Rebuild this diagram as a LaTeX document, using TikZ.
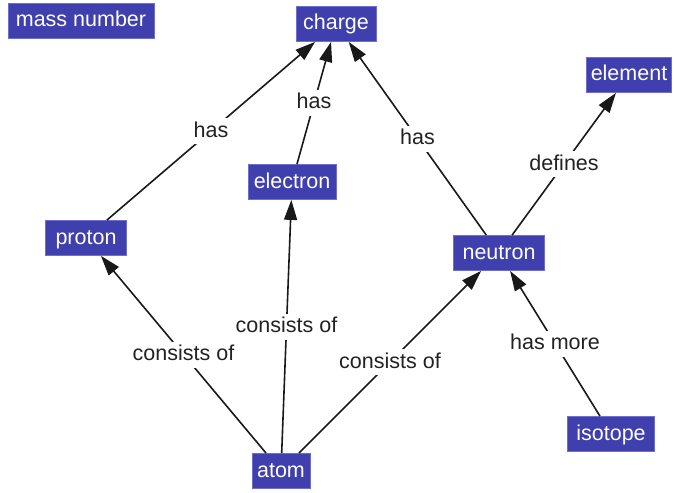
\documentclass[tikz,border=0pt]{standalone}
\usepackage{fontspec}
\setmainfont{Liberation Sans}
\usetikzlibrary{arrows.meta,calc}
\definecolor{conceptfill}{RGB}{63,63,173}
\definecolor{conceptedge}{RGB}{110,110,205}
\definecolor{labeltext}{RGB}{34,34,34}
\tikzset{
  concept/.style={rectangle, fill=conceptfill, draw=conceptedge, line width=0.8pt,
    text=white, font=\fontsize{21.5}{26}\selectfont, inner sep=0pt,
    minimum height=35pt, text height=16pt, text depth=4pt},
  link/.style={line width=1.6pt, draw=black!90,
    -{Triangle[length=20pt,width=13pt]}},
  linklabel/.style={fill=white, text=labeltext, inner sep=3pt,
    font=\fontsize{21.5}{26}\selectfont, text height=16pt, text depth=4pt}
}
\begin{document}
\begin{tikzpicture}[x=1pt,y=-1pt]
  \useasboundingbox (0,0) rectangle (676,492);
  % concepts
  \node[concept, minimum width=146pt] (mass)     at (81,21)   {mass number};
  \node[concept, minimum width=80pt]  (charge)   at (336,24)  {charge};
  \node[concept, minimum width=85pt]  (element)  at (629,75)  {element};
  \node[concept, minimum width=88pt]  (electron) at (292,182) {electron};
  \node[concept, minimum width=81pt]  (proton)   at (86,238)  {proton};
  \node[concept, minimum width=91pt]  (neutron)  at (499,253) {neutron};
  \node[concept, minimum width=87pt]  (isotope)  at (611,434) {isotope};
  \node[concept, minimum width=58pt]  (atom)     at (281,471) {atom};
  % relations
  \draw[link] (proton)   -- (charge);
  \draw[link] (electron) -- (charge);
  \draw[link] (neutron)  -- (charge);
  \draw[link] (neutron)  -- (element);
  \draw[link] (atom)     -- (proton);
  \draw[link] (atom)     -- (electron);
  \draw[link] (atom)     -- (neutron);
  \draw[link] (isotope)  -- (neutron);
  % relation labels
  \node[linklabel] (l1) at ($(proton)!0.5!(charge)$)   {has};
  \node[linklabel] (l2) at ($(electron)!0.5!(charge)$) {has};
  \node[linklabel] (l3) at ($(neutron)!0.5!(charge)$)  {has};
  \node[linklabel] (l4) at ($(neutron)!0.5!(element)$) {defines};
  \node[linklabel] (l5) at ($(atom)!0.5!(proton)$)     {consists of};
  \node[linklabel] (l6) at ($(atom)!0.5!(electron)$)   {consists of};
  \node[linklabel] (l7) at ($(atom)!0.5!(neutron)$)    {consists of};
  \node[linklabel] (l8) at ($(isotope)!0.5!(neutron)$) {has more};
\end{tikzpicture}
\end{document}
